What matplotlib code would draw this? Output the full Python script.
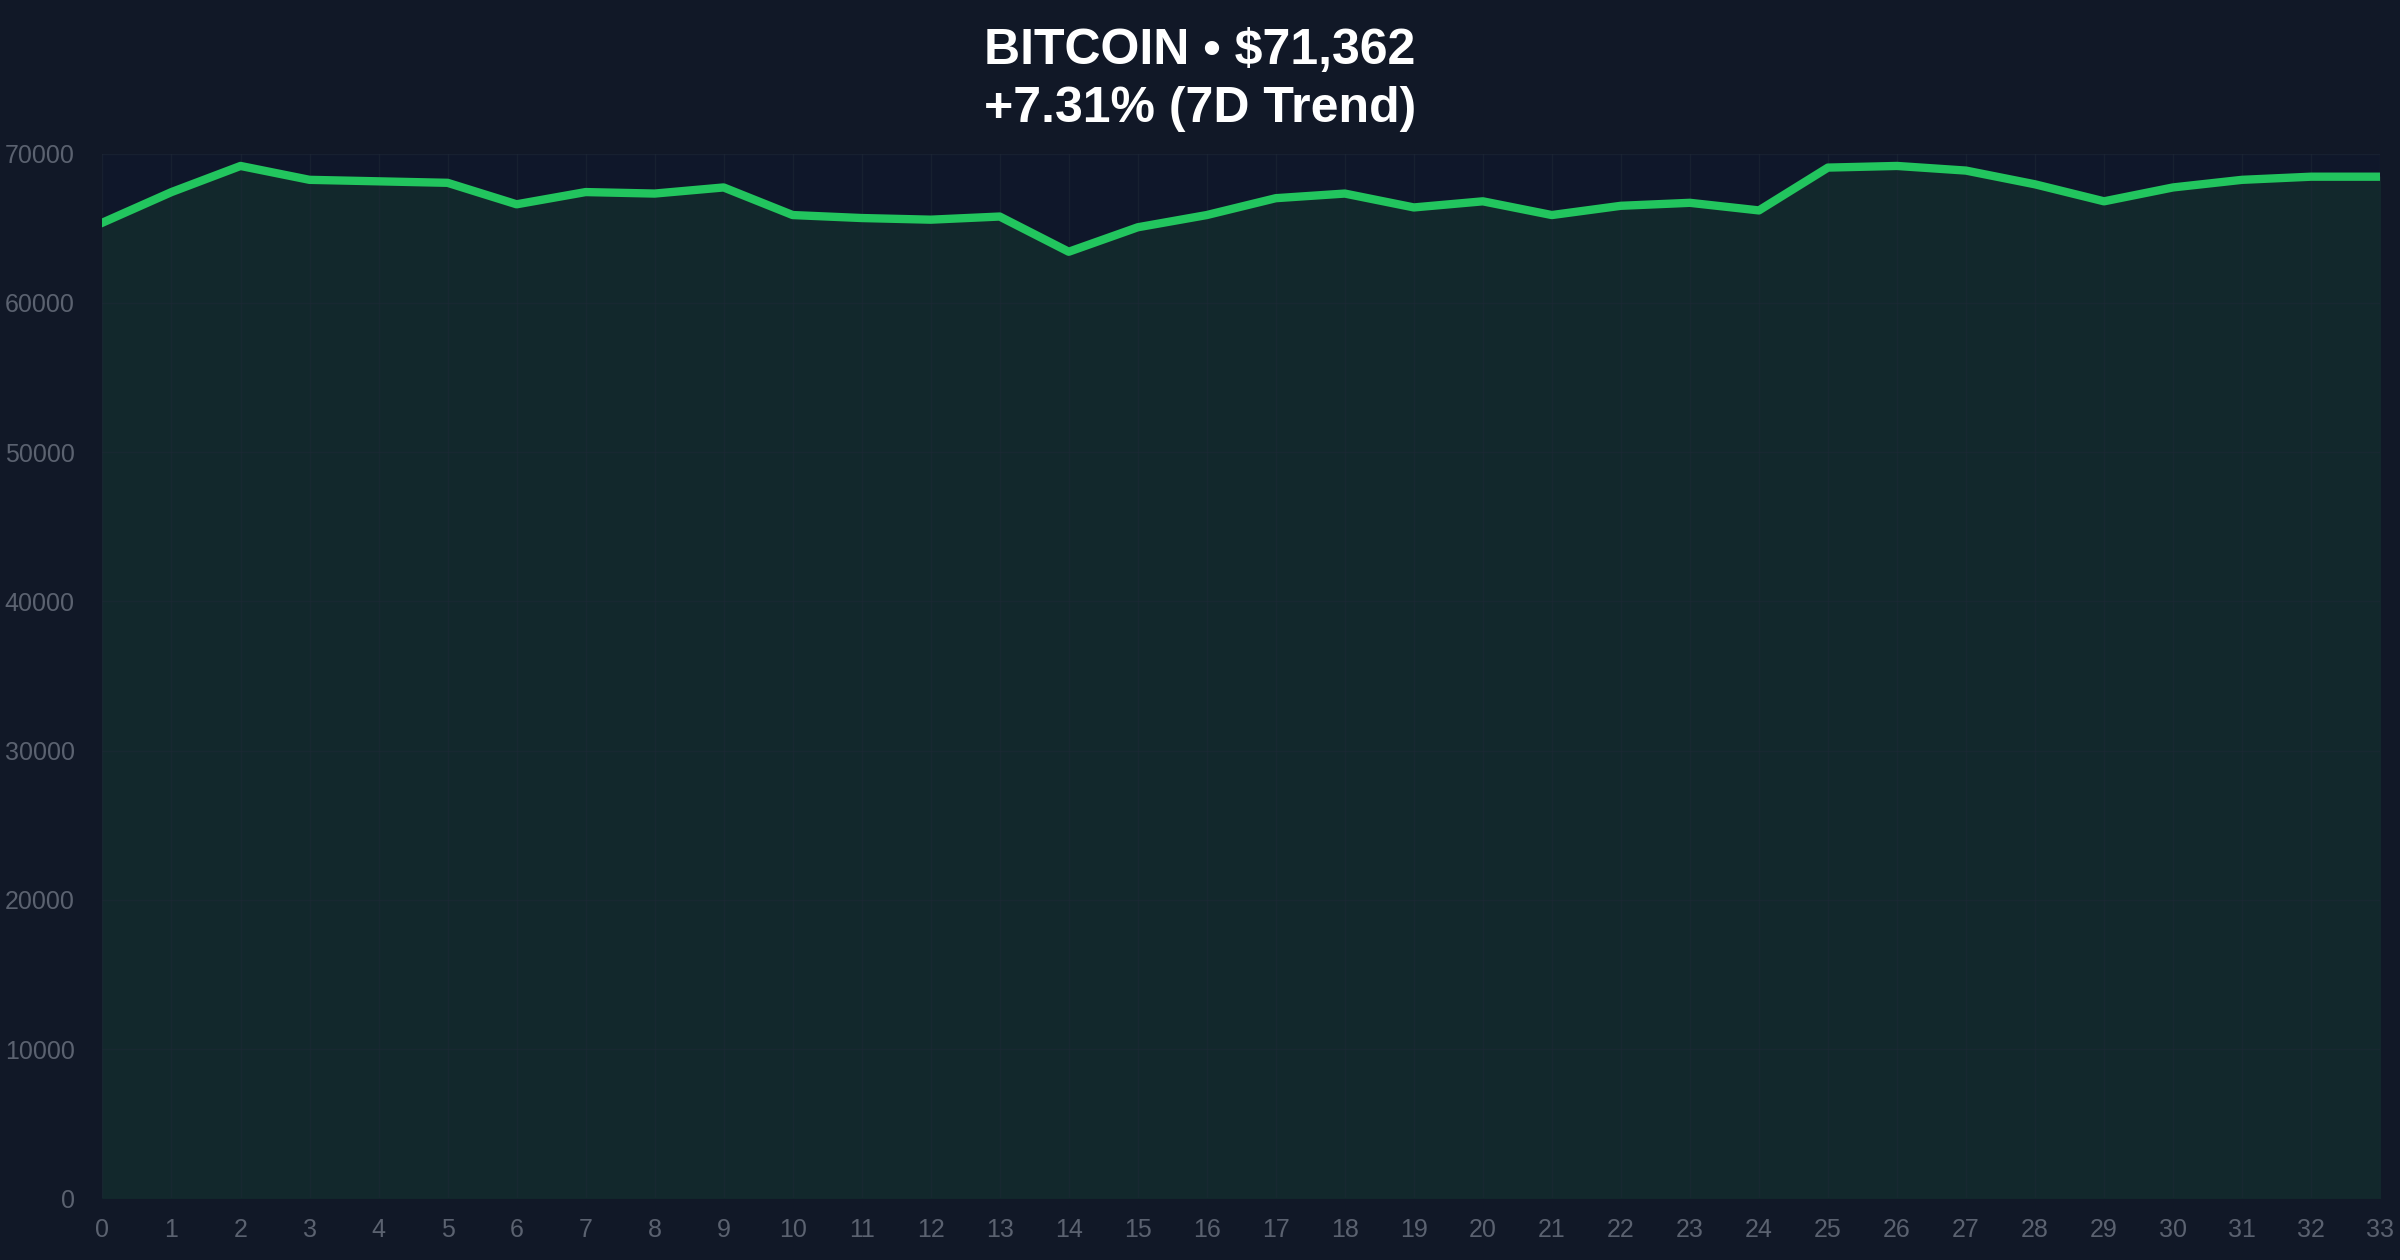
import matplotlib
matplotlib.use("Agg")
import matplotlib.pyplot as plt

days = list(range(34))
prices = [65380, 67430, 69180, 68250, 68150, 68050, 66610, 67430, 67330, 67740,
          65890, 65690, 65580, 65790, 63430, 65070, 65890, 67020, 67330, 66400,
          66810, 65890, 66510, 66710, 66200, 69070, 69180, 68870, 67950, 66810,
          67740, 68250, 68460, 68460]
title = "BITCOIN • $71,362\n+7.31% (7D Trend)"

plt.rcParams['font.family'] = ['Liberation Sans', 'DejaVu Sans']
bg = "#111827"
fig = plt.figure(figsize=(24, 12.6), dpi=100, facecolor=bg)
ax = fig.add_axes([0.0427, 0.049, 0.949, 0.829])
ax.set_facecolor("#0f172a")
ax.fill_between(days, prices, 0, color="#12282c", zorder=1)
ax.plot(days, prices, color="#22c55e", lw=6, zorder=3, solid_joinstyle='round')
ax.set_xlim(0, 33)
ax.set_ylim(0, 70000)
ax.set_xticks(days)
ax.set_yticks(range(0, 70001, 10000))
ax.grid(True, color="#1f2937", lw=1, alpha=0.5, zorder=2)
ax.set_axisbelow(False)
for s in ax.spines.values():
    s.set_visible(False)
ax.tick_params(colors="#5b6270", labelsize=18, length=0)
ax.tick_params(axis='x', pad=14)
ax.tick_params(axis='y', pad=20)
fig.text(0.5, 0.978, title, ha='center', va='top', color='white',
         fontsize=36, fontweight='bold', linespacing=1.35)
fig.savefig("out.png", facecolor=bg)
